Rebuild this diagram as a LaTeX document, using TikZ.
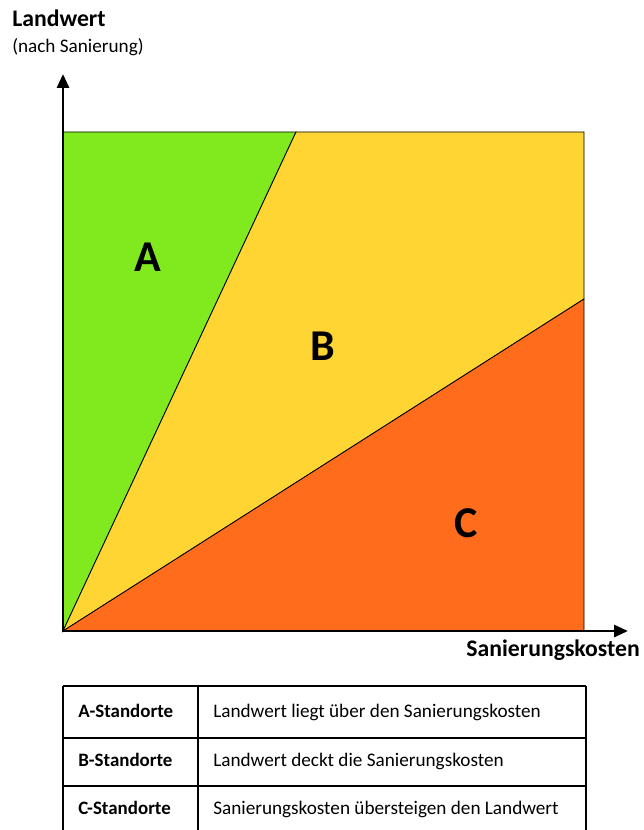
\documentclass[tikz,border=0pt]{standalone}
\usepackage{fontspec}
\setmainfont{Carlito}
\usetikzlibrary{arrows.meta}

\definecolor{zoneA}{RGB}{128,234,30}
\definecolor{zoneB}{RGB}{255,213,52}
\definecolor{zoneC}{RGB}{255,108,28}

\begin{document}
\begin{tikzpicture}[
  x=0.75pt, y=-0.75pt,
  zone/.style={draw=black, line width=0.6pt},
  axis/.style={line width=2.2pt, -{Triangle[length=10.5pt, width=9pt]}},
  zonelbl/.style={font=\fontsize{33}{38}\selectfont\bfseries},
  axlbl/.style={font=\fontsize{17.8}{21}\selectfont\bfseries, inner sep=0pt},
  sublbl/.style={font=\fontsize{14.4}{17}\selectfont, inner sep=0pt},
  cellhead/.style={font=\fontsize{14.2}{17}\selectfont\bfseries, anchor=base west, inner sep=0pt},
  celltxt/.style={font=\fontsize{14.4}{17}\selectfont, anchor=base west, inner sep=0pt},
  grid/.style={line width=0.8pt}
]
\useasboundingbox (0,0) rectangle (643,830);

% corners of the chart
\coordinate (O) at (63,631);
\coordinate (TL) at (63,132);
\coordinate (TM) at (296,132);
\coordinate (TR) at (584,132);
\coordinate (RM) at (584,299);
\coordinate (BR) at (584,631);

% zones
\filldraw[zone, fill=zoneA] (O) -- (TL) -- (TM) -- cycle;
\filldraw[zone, fill=zoneB] (O) -- (TM) -- (TR) -- (RM) -- cycle;
\filldraw[zone, fill=zoneC] (O) -- (RM) -- (BR) -- cycle;

\node[zonelbl] (A) at (148,257) {A};
\node[zonelbl] (B) at (323,346) {B};
\node[zonelbl] (C) at (466,523) {C};

% axes
\coordinate (ytip) at (63,74);
\coordinate (xtip) at (628,631);
\draw[axis] (O) -- (ytip);
\draw[axis] (O) -- (xtip);

\node[axlbl, anchor=base west] (landwert) at (12,27) {Landwert};
\node[sublbl, anchor=base west] (nachsan) at (12,53) {(nach Sanierung)};
\node[axlbl, anchor=base east] (sankost) at (640,656) {Sanierungskosten};

% table
\draw[grid] (63,686) -- (586,686);
\draw[grid] (63,738) -- (586,738);
\draw[grid] (63,786) -- (586,786);
\draw[grid] (63,686) -- (63,830);
\draw[grid] (198,686) -- (198,830);
\draw[grid] (586,686) -- (586,830);

\node[cellhead] (sa) at (78,717) {A-Standorte};
\node[cellhead] (sb) at (78,766) {B-Standorte};
\node[cellhead] (sc) at (78,814) {C-Standorte};
\node[celltxt] (ta) at (213,717) {Landwert liegt über den Sanierungskosten};
\node[celltxt] (tb) at (213,766) {Landwert deckt die Sanierungskosten};
\node[celltxt] (tc) at (213,814) {Sanierungskosten übersteigen den Landwert};
\end{tikzpicture}
\end{document}
